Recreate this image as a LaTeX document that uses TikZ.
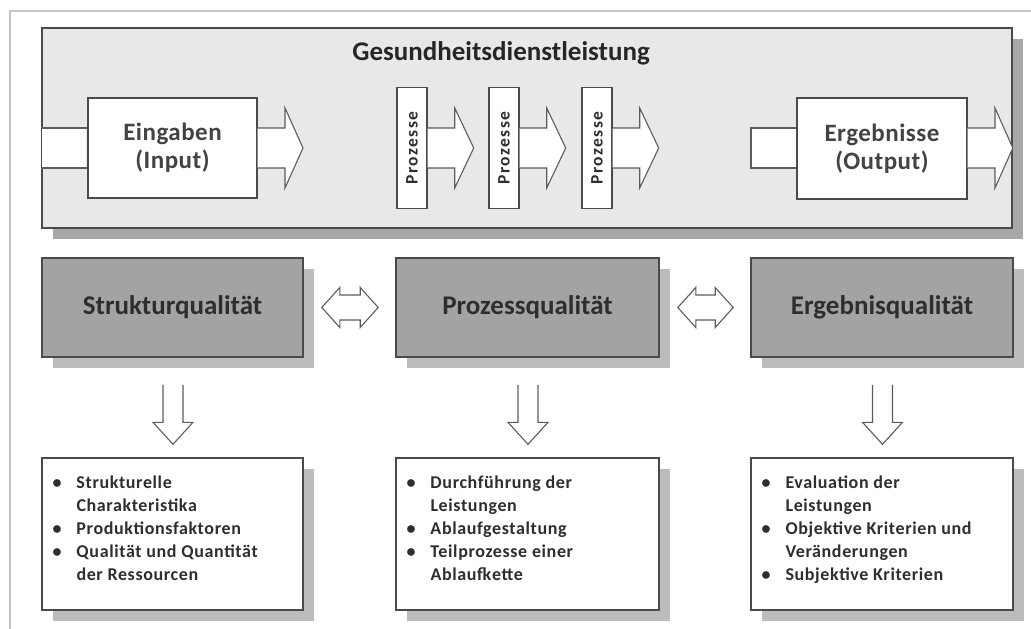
\documentclass[tikz,border=0pt]{standalone}
\usepackage{fontspec}
\setmainfont{Carlito}
\usetikzlibrary{calc,shadows}
\definecolor{frameline}{HTML}{C4C4C4}
\definecolor{topfill}{HTML}{E8E8E8}
\definecolor{topshadow}{HTML}{A8A8A8}
\definecolor{qfill}{HTML}{A3A3A3}
\definecolor{qshadow}{HTML}{BCBCBC}
\definecolor{edge}{HTML}{4A4A4A}
\definecolor{txt}{HTML}{2E2E2E}
\tikzset{
  shadowbox/.style={drop shadow={shadow xshift=11pt,shadow yshift=-11pt,fill=#1,opacity=1}},
  topbox/.style={draw=edge,line width=1.6pt,fill=topfill,shadowbox=topshadow,minimum width=970pt,minimum height=200pt,inner sep=0pt},
  whitebox/.style={draw=edge,line width=1.4pt,fill=white,inner sep=0pt,text=txt},
  procbox/.style={whitebox,minimum width=30pt,minimum height=121pt},
  qbox/.style={draw=edge,line width=1.6pt,fill=qfill,shadowbox=qshadow,minimum height=99pt,inner sep=0pt,text=txt,font=\fontsize{27}{30}\selectfont\bfseries},
  listbox/.style={draw=edge,line width=1.4pt,fill=white,shadowbox=qshadow,minimum height=152pt,inner sep=0pt},
  blockarrow/.style={draw=edge!90,line width=1.1pt,fill=white,line join=miter},
  listtext/.style={anchor=north west,align=left,inner sep=0pt,text=txt,font=\fontsize{18}{23}\selectfont\bfseries\addfontfeature{LetterSpace=3.5}},
  iotext/.style={align=center,font=\fontsize{25}{28}\selectfont\bfseries\addfontfeature{LetterSpace=2},text=txt!90},
  proctext/.style={rotate=90,text=txt,font=\fontsize{17.5}{19}\selectfont\bfseries\addfontfeature{LetterSpace=8}},
}
\newcommand{\bul}{\makebox[24pt][l]{\textbullet}}
\newcommand{\nob}{\hspace*{24pt}}
\begin{document}
\begin{tikzpicture}[x=1pt,y=-1pt]
\useasboundingbox (0,0) rectangle (1031,629);
% outer frame
\coordinate (fbl) at (10,629);
\coordinate (ftl) at (10,11);
\coordinate (ftr) at (1031,11);
\draw[frameline,line width=1.8pt] (fbl) -- (ftl) -- (ftr);

% top box
\node[topbox] (top) at (527,128) {};
\node[font=\fontsize{27}{30}\selectfont\bfseries,text=black!85] (title) at (501,53) {Gesundheitsdienstleistung};

% input arrow and Eingaben
\node[whitebox,minimum width=169pt,minimum height=100pt,iotext] (ein) at (172.5,148) {Eingaben\\(Input)};
\draw[blockarrow] (top.west |- 0,128) -- (ein.west |- 0,128);
\draw[blockarrow] (top.west |- 0,168) -- (ein.west |- 0,168);
\fill[white] ($(top.west |- 0,128)+(1,1)$) rectangle ($(ein.west |- 0,168)+(-1,-1)$);
\draw[blockarrow] (ein.east |- 0,128) -- (285,128) -- (285,108) -- (303,148) -- (285,188) -- (285,168) -- (ein.east |- 0,168);

% Prozesse
\foreach \i/\x in {1/412,2/504,3/597}{
  \node[procbox] (p\i) at (\x,148) {};
  \node[proctext] (pt\i) at (p\i) {Prozesse};
  \draw[blockarrow] (p\i.east |- 0,128) -- ($(p\i.east |- 0,128)+(27,0)$) -- ($(p\i.east |- 0,108)+(27,0)$) -- ($(p\i.east |- 0,148)+(46,0)$) -- ($(p\i.east |- 0,188)+(27,0)$) -- ($(p\i.east |- 0,168)+(27,0)$) -- (p\i.east |- 0,168);
}

% Ergebnisse
\node[whitebox,minimum width=170pt,minimum height=101pt,iotext] (erg) at (882,148.5) {Ergebnisse\\(Output)};
\draw[blockarrow] (erg.west |- 0,128) -- (751,128) -- (751,168) -- (erg.west |- 0,168);
\draw[blockarrow] (erg.east |- 0,128) -- (995,128) -- (995,108) -- (top.east |- 0,148) -- (995,188) -- (995,168) -- (erg.east |- 0,168);

% quality boxes
\node[qbox,minimum width=261pt] (sq) at (172.5,307.5) {Strukturqualität};
\node[qbox,minimum width=263pt] (pq) at (527.5,307.5) {Prozessqualität};
\node[qbox,minimum width=262pt] (eq) at (882,307.5) {Ergebnisqualität};

% double arrows
\foreach \a/\b in {sq/pq,pq/eq}{
  \path ($(\a.east)+(18,0)$) coordinate (L) ($(\b.west)+(-17,0)$) coordinate (R);
  \draw[blockarrow] (L) -- ($(L)+(18,-20)$) -- ($(L)+(18,-12.5)$) -- ($(R)+(-18,-12.5)$) -- ($(R)+(-18,-20)$) -- (R) -- ($(R)+(-18,20)$) -- ($(R)+(-18,12.5)$) -- ($(L)+(18,12.5)$) -- ($(L)+(18,20)$) -- cycle;
}

% list boxes
\node[listbox,minimum width=261pt] (sl) at (172.5,534) {};
\node[listbox,minimum width=263pt] (pl) at (527.5,534) {};
\node[listbox,minimum width=262pt] (el) at (882,534) {};

\node[listtext] (slt) at ($(sl.north west)+(11,18)$) {\bul Strukturelle\\ \nob Charakteristika\\ \bul Produktionsfaktoren\\ \bul Qualität und Quantität\\ \nob der Ressourcen};
\node[listtext] (plt) at ($(pl.north west)+(11,18)$) {\bul Durchführung der\\ \nob Leistungen\\ \bul Ablaufgestaltung\\ \bul Teilprozesse einer\\ \nob Ablaufkette};
\node[listtext] (elt) at ($(el.north west)+(11,18)$) {\bul Evaluation der\\ \nob Leistungen\\ \bul Objektive Kriterien und\\ \nob Veränderungen\\ \bul Subjektive Kriterien};

% down arrows
\foreach \a/\b in {sq/sl,pq/pl,eq/el}{
  \path ($(\a.south)+(0.5,27)$) coordinate (T) ($(\b.north)+(0.5,-13)$) coordinate (B);
  \draw[blockarrow] ($(T)+(-10,0)$) -- ($(B)+(-10,-22)$) -- ($(B)+(-20,-22)$) -- (B) -- ($(B)+(20,-22)$) -- ($(B)+(10,-22)$) -- ($(T)+(10,0)$);
}
\end{tikzpicture}
\end{document}
